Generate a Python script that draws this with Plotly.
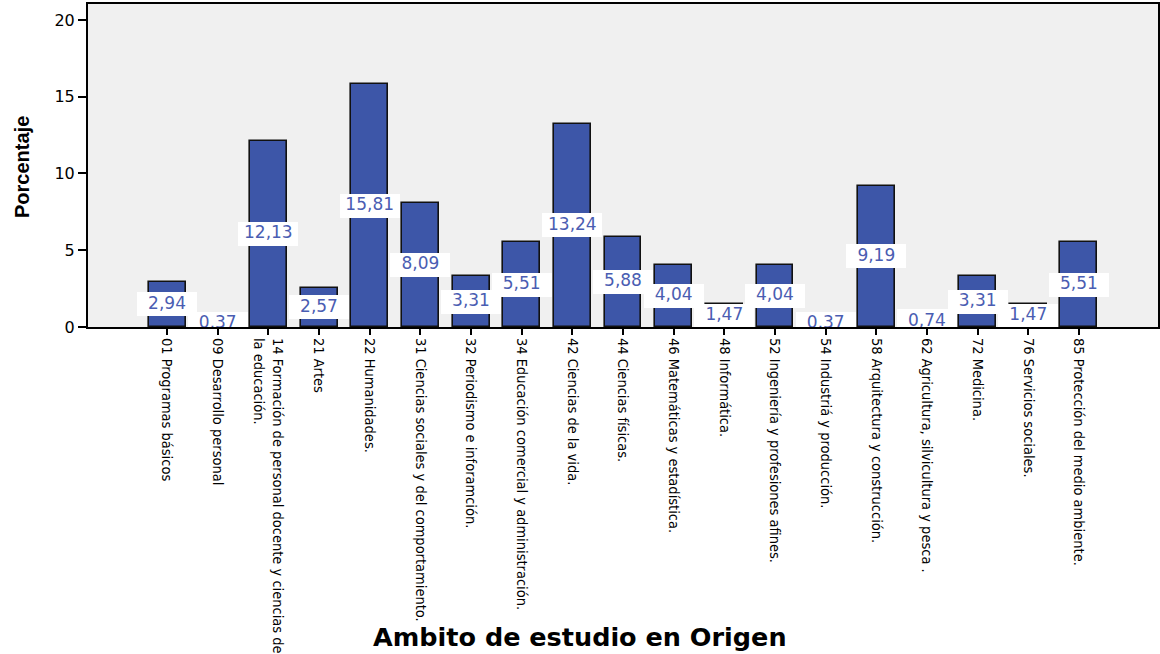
import plotly.graph_objects as go

categories = [
    "01 Programas básicos",
    "09 Desarrollo personal",
    "14 Formación de personal docente y ciencias de<br>la educación.",
    "21 Artes",
    "22 Humanidades.",
    "31 Ciencias sociales y del comportamiento.",
    "32 Periodismo e inforamción.",
    "34 Educación comercial y administración.",
    "42 Ciencias de la vida.",
    "44 Ciencias físicas.",
    "46 Matemáticas y estadística.",
    "48 Informática.",
    "52 Ingeniería y profesiones afines.",
    "54 Industriá y producción.",
    "58 Arquitectura y construcción.",
    "62 Agricultura, silvicultura y pesca .",
    "72 Medicina.",
    "76 Servicios sociales.",
    "85 Protección del medio ambiente.",
]
values = [2.94, 0.37, 12.13, 2.57, 15.81, 8.09, 3.31, 5.51, 13.24, 5.88,
          4.04, 1.47, 4.04, 0.37, 9.19, 0.74, 3.31, 1.47, 5.51]
value_labels = [f"{v:.2f}".replace(".", ",") for v in values]
y_ticks = [0, 5, 10, 15, 20]

xs = list(range(len(categories)))
BOX_H = 1.56

fig = go.Figure()
fig.add_trace(go.Bar(
    x=xs, y=values, width=0.73,
    marker=dict(color="#3d56a8", line=dict(color="#111111", width=1.6)),
    hoverinfo="skip", showlegend=False,
))
fig.add_trace(go.Bar(
    x=xs, y=[BOX_H] * len(values), base=[v / 2 - BOX_H / 2 for v in values],
    width=1.18, marker=dict(color="white", line=dict(width=0)),
    hoverinfo="skip", showlegend=False,
))
fig.add_trace(go.Scatter(
    x=xs, y=[v / 2 for v in values], mode="text", text=value_labels,
    textfont=dict(family="DejaVu Sans, Arial", size=17, color="#4a5db2"),
    textposition="middle center", cliponaxis=True,
    hoverinfo="skip", showlegend=False,
))

fig.update_layout(
    width=1160, height=654,
    margin=dict(l=88, r=2, t=4, b=327),
    paper_bgcolor="white", plot_bgcolor="#f0f0f0",
    barmode="overlay", bargap=0,
    font=dict(family="Liberation Sans, Arial", color="#000000"),
    xaxis=dict(
        range=[-1.56, 19.56], tickmode="array", tickvals=xs, ticktext=categories,
        tickangle=90, ticks="outside", ticklen=6, tickwidth=1.5, tickcolor="#000",
        tickfont=dict(family="Liberation Sans Narrow, DejaVu Sans Condensed, Arial Narrow", size=14.5, color="#000"),
        showgrid=False, zeroline=False, showline=True, linecolor="#000", linewidth=2, mirror=True,
        automargin=False,
    ),
    yaxis=dict(
        range=[0, 21.04], tickmode="array", tickvals=y_ticks,
        ticks="outside", ticklen=8, tickwidth=1.5, tickcolor="#000",
        tickfont=dict(family="DejaVu Sans, Arial", size=16, color="#000"),
        showgrid=False, zeroline=False, showline=True, linecolor="#000", linewidth=2, mirror=True,
        automargin=False,
    ),
    annotations=[
        dict(text="<b>Ambito de estudio en Origen</b>", xref="paper", yref="paper",
             x=(580 - 88) / 1070, y=(327 - 637) / 323, xanchor="center", yanchor="middle",
             showarrow=False, font=dict(family="DejaVu Sans, Arial", size=25.5, color="#000")),
        dict(text="<b>Porcentaje</b>", xref="paper", yref="paper",
             x=(22 - 88) / 1070, y=(327 - 167) / 323, xanchor="center", yanchor="middle",
             textangle=-90, showarrow=False,
             font=dict(family="Liberation Sans, Arial", size=20, color="#000")),
    ],
)

fig.write_html("out.html", config={"displayModeBar": False},
               post_script="document.body.style.margin='0';")
